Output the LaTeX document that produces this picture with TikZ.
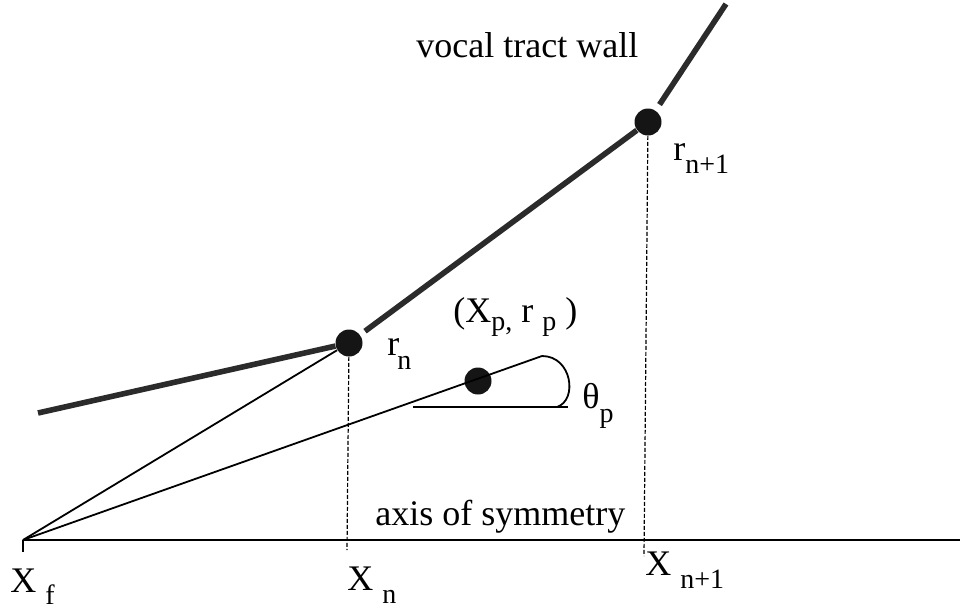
\documentclass[tikz,border=0pt]{standalone}
\usepackage{fontspec}
\setmainfont{Liberation Serif}
\usetikzlibrary{positioning,calc}
\definecolor{WallGray}{HTML}{2B2B2B}
\definecolor{DotBlack}{HTML}{151515}
\newcommand{\lo}[2][6.5pt]{\raisebox{-#1}{\fontsize{14}{16}\selectfont #2}}
\tikzset{
  wall/.style={line width=2.8pt,color=WallGray},
  ray/.style={line width=0.9pt,color=black},
  guide/.style={line width=0.6pt,dash pattern=on 2pt off 1pt,color=black},
  dotnode/.style={circle,fill=DotBlack,inner sep=0pt,minimum size=13.5pt},
  lbl/.style={inner sep=0pt,anchor=base west,font=\fontsize{18}{20}\selectfont},
}

\begin{document}
\begin{tikzpicture}[x=0.5pt,y=-0.5pt]
  \useasboundingbox (0,0) rectangle (960,611);

  % fixed points
  \coordinate (xf)    at (23,540);
  \coordinate (xft)   at (23,552);
  \coordinate (axend) at (960,540);
  \coordinate (wl)    at (38,413);
  \coordinate (wt)    at (726,4);
  \coordinate (xn)    at (347,550);
  \coordinate (xn1)   at (644,556);
  \coordinate (pe)    at (542,356);
  \coordinate (hl)    at (413,407);
  \coordinate (hr)    at (568,407);
  \coordinate (ae)    at (557,407);

  \node[dotnode] (rn)  at (349,343) {};
  \node[dotnode] (rn1) at (648,122) {};
  \node[dotnode] (p)   at (478,381) {};

  % axis and rays
  \draw[ray] (xf) -- (axend);
  \draw[ray] (xf) -- (xft);
  \draw[ray] (xf) -- (rn);
  \draw[ray] (xf) -- (pe);
  \draw[ray] (hl) -- (hr);
  \draw[ray] (pe) .. controls (572,356) and (578,400) .. (ae);

  % vocal tract wall
  \draw[wall] (wl) -- (rn);
  \draw[wall,shorten <=3pt] (rn) -- (rn1);
  \draw[wall,shorten <=3.5pt] (rn1) -- (wt);

  \draw[guide] (rn) -- (xn);
  \draw[guide] (rn1) -- (xn1);

  % labels
  \node[lbl] (wallname) at (416,57)  {vocal tract wall};
  \node[lbl] (axisname) at (375,525) {axis of symmetry};
  \node[lbl] (lxf)  at (10,592)  {X\ \lo[6pt]{f}};
  \node[lbl] (lxn)  at (347,590) {X\ \lo{n}};
  \node[lbl] (lxn1) at (645,575) {X\ \lo{n+1}};
  \node[lbl] (lrn)  at (387,355) {r\kern-1pt\lo[7pt]{n}};
  \node[lbl] (lrn1) at (673,160) {r\lo{n+1}};
  \node[lbl] (lp)   at (453,322) {(X\lo[4pt]{p,} r\ \lo[4pt]{p} )};
  \node[lbl] (lth)  at (582,408) {θ\lo[7pt]{p}};

\end{tikzpicture}
\end{document}
